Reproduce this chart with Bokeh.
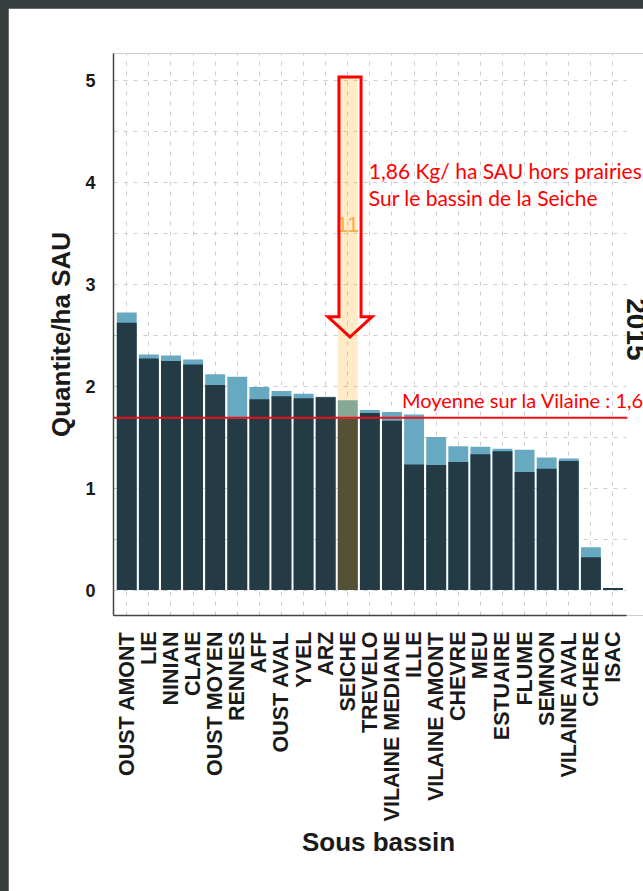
import numpy as np
from bokeh.plotting import figure
from bokeh.models import Range1d, FixedTicker, Label, BoxAnnotation, ColumnDataSource
from bokeh.layouts import column
from bokeh.embed import file_html
from bokeh.resources import INLINE

# ---------------- data ----------------
categories = ["OUST AMONT", "LIE", "NINIAN", "CLAIE", "OUST MOYEN", "RENNES", "AFF",
              "OUST AVAL", "YVEL", "ARZ", "SEICHE", "TREVELO", "VILAINE MEDIANE", "ILLE",
              "VILAINE AMONT", "CHEVRE", "MEU", "ESTUAIRE", "FLUME", "SEMNON",
              "VILAINE AVAL", "CHERE", "ISAC"]
total_qty = [2.72, 2.31, 2.30, 2.26, 2.115, 2.09, 1.99, 1.95, 1.925, 1.895, 1.86, 1.765,
             1.745, 1.72, 1.50, 1.41, 1.405, 1.385, 1.375, 1.30, 1.29, 0.42, 0.02]
dark_qty = [2.62, 2.27, 2.245, 2.21, 2.01, 1.68, 1.87, 1.90, 1.88, 1.89, 1.68, 1.735,
            1.66, 1.23, 1.225, 1.255, 1.33, 1.36, 1.157, 1.19, 1.265, 0.32, 0.02]
y_ticks = [0, 1, 2, 3, 4, 5]
mean_vilaine = 1.69
highlight_rank = 11  # SEICHE
facet_label = "2015"

n = len(categories)
x_pos = list(range(1, n + 1))
src = ColumnDataSource(dict(x=x_pos, cat=categories, total=total_qty, dark=dark_qty))

FONT = "Liberation Sans"
TXT = "#1a1a1a"
RED = "#ff0000"
X0, X1 = 0.4, n + 0.6          # panel extent (categories)

p = figure(width=635, height=883,
           x_range=Range1d(X0, 24.38),
           y_range=Range1d(-0.25, 5.26),
           output_backend="svg", toolbar_location=None,
           min_border_left=105, min_border_top=45, min_border_right=0, min_border_bottom=276,
           background_fill_color="white", border_fill_color="white",
           outline_line_color=None)
p.margin = (8, 0, 0, 8)

# grid
p.xgrid.ticker = FixedTicker(ticks=x_pos)
p.xgrid.grid_line_color = "#cccccc"
p.xgrid.grid_line_dash = "4 6"
ygrid_vals = [i * 0.5 for i in range(11)]
try:
    p.ygrid.cross_bounds = (X0, X1)
    p.ygrid.ticker = FixedTicker(ticks=ygrid_vals)
    p.ygrid.grid_line_color = "#cccccc"
    p.ygrid.grid_line_dash = "4 6"
except Exception:
    p.ygrid.visible = False
    p.segment(x0=[X0] * len(ygrid_vals), x1=[X1] * len(ygrid_vals), y0=ygrid_vals, y1=ygrid_vals,
              line_color="#cccccc", line_dash="4 6", level="underlay")

# bars
p.vbar(x="x", top="total", bottom=0, width=0.9, source=src, fill_color="#67a9c1", line_color=None)
p.vbar(x="x", top="dark", bottom=0, width=0.9, source=src, fill_color="#243a44", line_color=None)

# highlight band
p.add_layout(BoxAnnotation(left=highlight_rank - 0.45, right=highlight_rank + 0.45,
                           bottom=0, top=5.02, fill_color="#ffa500", fill_alpha=0.22,
                           line_color=None))

# mean line
mean_r = p.segment(x0=[X0], x1=[X1 + 0.05], y0=[mean_vilaine], y1=[mean_vilaine],
                   line_color="#e8121a", line_width=2)
mean_r.level = "overlay"

# rank label
p.add_layout(Label(x=highlight_rank, y=3.58, text=str(highlight_rank), text_align="center",
                   text_baseline="middle", text_color="#f2a83a", text_alpha=0.9,
                   text_font=FONT, text_font_size="22px"))

# hollow arrow
c = highlight_rank + 0.1
ax = [c - 0.5, c + 0.5, c + 0.5, c + 1.0, c, c - 1.0, c - 0.5]
ay = [5.03, 5.03, 2.68, 2.68, 2.48, 2.68, 2.68]
arr = p.patch(ax, ay, fill_alpha=0, line_color=RED, line_width=3, line_join="miter")
arr.level = "overlay"

# texts
p.add_layout(Label(x=11.95, y=4.11, text="1,86 Kg/ ha SAU hors prairies", text_font="Lato",
                   text_font_size="21px", text_color=RED, text_baseline="alphabetic"))
p.add_layout(Label(x=11.95, y=3.85, text="Sur le bassin de la Seiche", text_font="Lato",
                   text_font_size="21px", text_color=RED, text_baseline="alphabetic"))
p.add_layout(Label(x=13.45, y=1.86, text="Moyenne sur la Vilaine : 1,69", text_font="Lato",
                   text_font_size="20px", text_color=RED, text_baseline="alphabetic"))
p.add_layout(Label(x=23.64, y=2.86, text=facet_label, angle=-np.pi / 2, text_align="left",
                   text_baseline="bottom", text_font=FONT, text_font_style="bold",
                   text_font_size="28px", text_color=TXT))

# axes
p.xaxis.ticker = FixedTicker(ticks=x_pos)
p.xaxis.bounds = (X0, X1)
p.xaxis.major_label_overrides = {i: c for i, c in zip(x_pos, categories)}
p.xaxis.major_label_orientation = np.pi / 2
p.yaxis.ticker = FixedTicker(ticks=y_ticks)
p.xaxis.axis_label = "Sous bassin"
p.yaxis.axis_label = "Quantite/ha SAU"
for a in (p.xaxis[0], p.yaxis[0]):
    a.axis_line_color = "#444444"
    a.axis_line_width = 1.5
    a.major_tick_out = 0
    a.major_tick_in = 0
    a.minor_tick_line_color = None
    a.major_label_text_font = FONT
    a.major_label_text_font_style = "bold"
    a.major_label_text_color = TXT
    a.axis_label_text_font = FONT
    a.axis_label_text_font_style = "bold"
    a.axis_label_text_color = TXT
    a.axis_label_text_font_size = "26px"
p.xaxis.major_label_text_font_size = "21.5px"
p.yaxis.major_label_text_font_size = "18px"
p.xaxis.major_label_standoff = 16
p.yaxis.major_label_standoff = 18
p.xaxis.axis_label_standoff = 3
p.yaxis.axis_label_standoff = 6

layout = column(p, width=643, height=891, styles={"background-color": "#363e3e"})

open("out.html", "w").write(file_html(layout, INLINE))
